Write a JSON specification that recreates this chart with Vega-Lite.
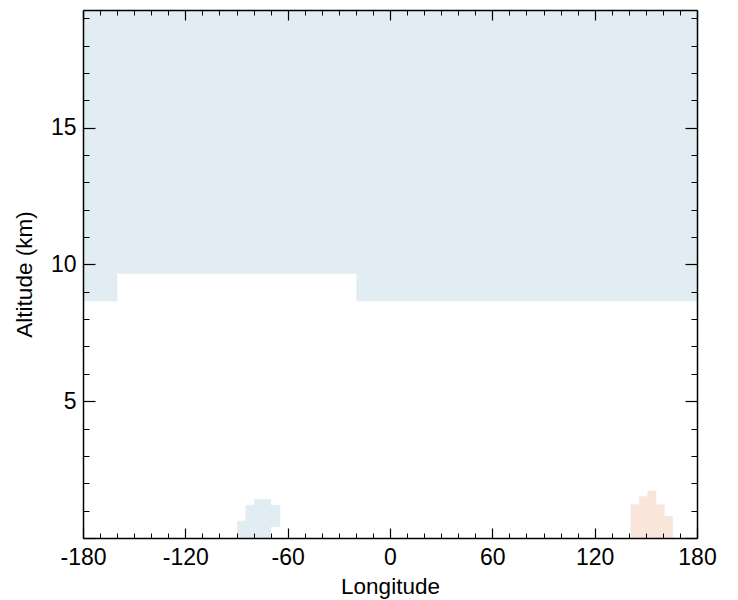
{
  "$schema": "https://vega.github.io/schema/vega-lite/v6.json",
  "autosize": "none",
  "width": 614,
  "height": 528,
  "padding": {"left": 83, "top": 10, "right": 41, "bottom": 62},
  "background": "white",
  "config": {
    "view": {"stroke": null},
    "font": "Liberation Sans",
    "axis": {"grid": false, "labelColor": "black", "titleColor": "black", "labelFont": "Liberation Sans", "titleFont": "Liberation Sans", "titleFontWeight": "normal", "tickColor": "black", "domainColor": "black", "zindex": 2, "labelFlush": false, "labelOverlap": false}
  },
  "data": {
    "values": [
      {"lon1": -180, "lon2": 180, "alt1": 9.67, "alt2": 19.3, "kind": "neg"},
      {"lon1": -180, "lon2": -160, "alt1": 8.66, "alt2": 9.67, "kind": "neg"},
      {"lon1": -19.5, "lon2": 180, "alt1": 8.66, "alt2": 9.67, "kind": "neg"},
      {"lon1": -89.5, "lon2": -84.5, "alt1": 0, "alt2": 0.62, "kind": "neg"},
      {"lon1": -84.5, "lon2": -79.5, "alt1": 0, "alt2": 1.2, "kind": "neg"},
      {"lon1": -79.5, "lon2": -70, "alt1": 0, "alt2": 1.42, "kind": "neg"},
      {"lon1": -70, "lon2": -64.5, "alt1": 0.41, "alt2": 1.2, "kind": "neg"},
      {"lon1": 141.3, "lon2": 146.2, "alt1": 0, "alt2": 1.22, "kind": "pos"},
      {"lon1": 146.2, "lon2": 151.1, "alt1": 0, "alt2": 1.52, "kind": "pos"},
      {"lon1": 151.1, "lon2": 156, "alt1": 0, "alt2": 1.72, "kind": "pos"},
      {"lon1": 156, "lon2": 160.8, "alt1": 0, "alt2": 1.22, "kind": "pos"},
      {"lon1": 160.8, "lon2": 165.7, "alt1": 0, "alt2": 0.8, "kind": "pos"}
    ]
  },
  "resolve": {"axis": {"x": "independent", "y": "independent"}},
  "layer": [
    {
      "mark": {"type": "rect", "strokeWidth": 0.5},
      "encoding": {
        "x": {"field": "lon1", "type": "quantitative", "scale": {"domain": [-180, 180], "nice": false, "zero": false},
          "axis": {"orient": "bottom", "values": [-180, -120, -60, 0, 60, 120, 180], "labelExpr": "'' + datum.value", "labelFlush": false, "ticks": false, "labelPadding": 8, "labelFontSize": 23, "title": "Longitude", "titleFontSize": 22.5, "titlePadding": 6, "domain": true, "domainWidth": 1.5, "zindex": 2}},
        "x2": {"field": "lon2"},
        "y": {"field": "alt1", "type": "quantitative", "scale": {"domain": [0, 19.3], "nice": false, "zero": false},
          "axis": {"orient": "left", "values": [5, 10, 15], "labelFlush": false, "ticks": false, "labelPadding": 7, "labelFontSize": 23, "title": "Altitude (km)", "titleFontSize": 22.5, "titlePadding": 14, "domain": true, "domainWidth": 1.5, "zindex": 2}},
        "y2": {"field": "alt2"},
        "color": {"field": "kind", "type": "nominal", "scale": {"domain": ["neg", "pos"], "range": ["#e1ecf3", "#f9e5da"]}, "legend": null},
        "stroke": {"field": "kind", "type": "nominal", "scale": {"domain": ["neg", "pos"], "range": ["#e1ecf3", "#f9e5da"]}, "legend": null}
      }
    },
    {
      "mark": {"type": "rect", "opacity": 0},
      "encoding": {
        "x": {"field": "lon1", "type": "quantitative", "scale": {"domain": [-180, 180], "nice": false, "zero": false},
          "axis": {"orient": "bottom", "values": [-180, -120, -60, 0, 60, 120, 180], "labels": false, "tickSize": -10, "tickWidth": 1.2, "domain": false, "title": null, "zindex": 2}},
        "x2": {"field": "lon2"},
        "y": {"field": "alt1", "type": "quantitative", "scale": {"domain": [0, 19.3], "nice": false, "zero": false},
          "axis": {"orient": "left", "values": [0, 5, 10, 15], "labels": false, "tickSize": -12, "tickWidth": 1.2, "domain": false, "title": null, "zindex": 2}},
        "y2": {"field": "alt2"}
      }
    },
    {
      "mark": {"type": "rect", "opacity": 0},
      "encoding": {
        "x": {"field": "lon1", "type": "quantitative", "scale": {"domain": [-180, 180], "nice": false, "zero": false},
          "axis": {"orient": "bottom", "values": [-170, -160, -150, -140, -130, -110, -100, -90, -80, -70, -50, -40, -30, -20, -10, 10, 20, 30, 40, 50, 70, 80, 90, 100, 110, 130, 140, 150, 160, 170], "labels": false, "tickSize": -5, "tickWidth": 1, "domain": false, "title": null, "zindex": 2}},
        "x2": {"field": "lon2"},
        "y": {"field": "alt1", "type": "quantitative", "scale": {"domain": [0, 19.3], "nice": false, "zero": false},
          "axis": {"orient": "left", "values": [1, 2, 3, 4, 6, 7, 8, 9, 11, 12, 13, 14, 16, 17, 18, 19], "labels": false, "tickSize": -6, "tickWidth": 1, "domain": false, "title": null, "zindex": 2}},
        "y2": {"field": "alt2"}
      }
    },
    {
      "mark": {"type": "rect", "opacity": 0},
      "encoding": {
        "x": {"field": "lon1", "type": "quantitative", "scale": {"domain": [-180, 180], "nice": false, "zero": false},
          "axis": {"orient": "top", "values": [-180, -120, -60, 0, 60, 120, 180], "labels": false, "tickSize": -10, "tickWidth": 1.2, "domain": true, "domainWidth": 1.5, "title": null, "zindex": 2}},
        "x2": {"field": "lon2"},
        "y": {"field": "alt1", "type": "quantitative", "scale": {"domain": [0, 19.3], "nice": false, "zero": false},
          "axis": {"orient": "right", "values": [0, 5, 10, 15], "labels": false, "tickSize": -12, "tickWidth": 1.2, "domain": true, "domainWidth": 1.5, "title": null, "zindex": 2}},
        "y2": {"field": "alt2"}
      }
    },
    {
      "mark": {"type": "rect", "opacity": 0},
      "encoding": {
        "x": {"field": "lon1", "type": "quantitative", "scale": {"domain": [-180, 180], "nice": false, "zero": false},
          "axis": {"orient": "top", "values": [-170, -160, -150, -140, -130, -110, -100, -90, -80, -70, -50, -40, -30, -20, -10, 10, 20, 30, 40, 50, 70, 80, 90, 100, 110, 130, 140, 150, 160, 170], "labels": false, "tickSize": -5, "tickWidth": 1, "domain": false, "title": null, "zindex": 2}},
        "x2": {"field": "lon2"},
        "y": {"field": "alt1", "type": "quantitative", "scale": {"domain": [0, 19.3], "nice": false, "zero": false},
          "axis": {"orient": "right", "values": [1, 2, 3, 4, 6, 7, 8, 9, 11, 12, 13, 14, 16, 17, 18, 19], "labels": false, "tickSize": -6, "tickWidth": 1, "domain": false, "title": null, "zindex": 2}},
        "y2": {"field": "alt2"}
      }
    }
  ]
}
